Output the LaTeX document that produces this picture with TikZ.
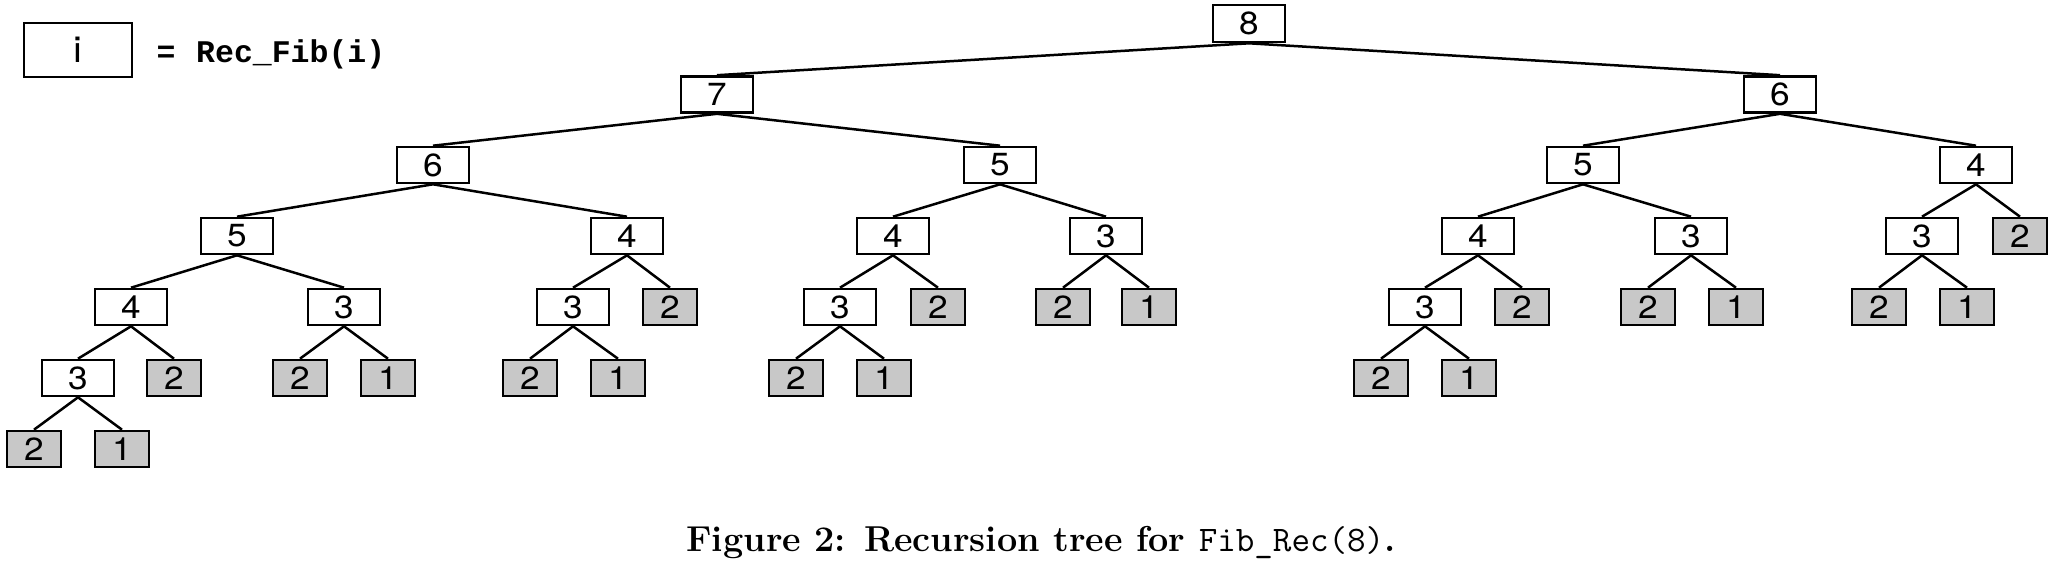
\documentclass[tikz,border=0pt]{standalone}
\usepackage{fontspec}
\usepackage{graphicx}
\newfontfamily\heros{TeX Gyre Heros}
\newfontfamily\courb{Liberation Mono}
\definecolor{leafgray}{RGB}{200,200,200}
\newcommand{\dg}[1]{\scalebox{1.1}[1]{#1}}
\tikzset{
  inner/.style={draw, line width=2.6pt, minimum width=72pt, minimum height=36pt, inner sep=0pt, fill=white,
    font=\heros\fontsize{32}{34}\selectfont},
  leaf/.style={inner, fill=leafgray, minimum width=54pt},
  edge/.style={line width=2.5pt}
}
\begin{document}
\begin{tikzpicture}[x=1pt,y=-1pt]
\useasboundingbox (0,0) rectangle (2057,568);
% legend
\node[inner, minimum width=108pt, minimum height=54pt, font=\heros\fontsize{36}{38}\selectfont] (leg) at (78,50) {\dg{i}};
\node[font=\courb\bfseries\fontsize{31.5}{33}\selectfont, anchor=base] (eq) at (166,62) {=};
\node[font=\courb\bfseries\fontsize{31.5}{33}\selectfont, anchor=base west, inner sep=0pt] (def) at (196,62) {Rec\_Fib(i)};
% levels
\def\La{23.5}\def\Lb{94.5}\def\Lc{165}\def\Ld{236}\def\Le{307}\def\Lf{378}\def\Lg{449}
\node[inner, minimum height=37pt] (r) at (1249,\La) {\dg{8}};
\node[inner] (A) at (717,\Lb) {\dg{7}};
\node[inner] (AA) at (433,\Lc) {\dg{6}};
\node[inner] (AAA) at (237,\Ld) {\dg{5}};
\node[inner] (AAAA) at (131,\Le) {\dg{4}};
\node[inner] (AAAAA) at (78,\Lf) {\dg{3}};
\node[leaf] (AAAAAA) at (34,\Lg) {\dg{2}};
\node[leaf] (AAAAAB) at (122,\Lg) {\dg{1}};
\node[leaf] (AAAAB) at (174,\Lf) {\dg{2}};
\node[inner] (AAAB) at (344,\Le) {\dg{3}};
\node[leaf] (AAABA) at (300,\Lf) {\dg{2}};
\node[leaf] (AAABB) at (388,\Lf) {\dg{1}};
\node[inner] (AAB) at (627,\Ld) {\dg{4}};
\node[inner] (AABA) at (573,\Le) {\dg{3}};
\node[leaf] (AABAA) at (530,\Lf) {\dg{2}};
\node[leaf] (AABAB) at (618,\Lf) {\dg{1}};
\node[leaf] (AABB) at (670,\Le) {\dg{2}};
\node[inner] (AB) at (1000,\Lc) {\dg{5}};
\node[inner] (ABA) at (893,\Ld) {\dg{4}};
\node[inner] (ABAA) at (840,\Le) {\dg{3}};
\node[leaf] (ABAAA) at (796,\Lf) {\dg{2}};
\node[leaf] (ABAAB) at (884,\Lf) {\dg{1}};
\node[leaf] (ABAB) at (938,\Le) {\dg{2}};
\node[inner] (ABB) at (1106,\Ld) {\dg{3}};
\node[leaf] (ABBA) at (1063,\Le) {\dg{2}};
\node[leaf] (ABBB) at (1149,\Le) {\dg{1}};
\node[inner] (B) at (1780,\Lb) {\dg{6}};
\node[inner] (BA) at (1583,\Lc) {\dg{5}};
\node[inner] (BAA) at (1478,\Ld) {\dg{4}};
\node[inner] (BAAA) at (1425,\Le) {\dg{3}};
\node[leaf] (BAAAA) at (1381,\Lf) {\dg{2}};
\node[leaf] (BAAAB) at (1469,\Lf) {\dg{1}};
\node[leaf] (BAAB) at (1522,\Le) {\dg{2}};
\node[inner] (BAB) at (1691,\Ld) {\dg{3}};
\node[leaf] (BABA) at (1648,\Le) {\dg{2}};
\node[leaf] (BABB) at (1736,\Le) {\dg{1}};
\node[inner] (BB) at (1976,\Lc) {\dg{4}};
\node[inner] (BBA) at (1922,\Ld) {\dg{3}};
\node[leaf] (BBAA) at (1879,\Le) {\dg{2}};
\node[leaf] (BBAB) at (1967,\Le) {\dg{1}};
\node[leaf] (BBB) at (2020,\Ld) {\dg{2}};
% edges
\foreach \p/\c in {r/A, r/B, A/AA, A/AB, AA/AAA, AA/AAB, AAA/AAAA, AAA/AAAB, AAAA/AAAAA, AAAA/AAAAB,
  AAAAA/AAAAAA, AAAAA/AAAAAB, AAAB/AAABA, AAAB/AAABB, AAB/AABA, AAB/AABB, AABA/AABAA, AABA/AABAB,
  AB/ABA, AB/ABB, ABA/ABAA, ABA/ABAB, ABAA/ABAAA, ABAA/ABAAB, ABB/ABBA, ABB/ABBB,
  B/BA, B/BB, BA/BAA, BA/BAB, BAA/BAAA, BAA/BAAB, BAAA/BAAAA, BAAA/BAAAB, BAB/BABA, BAB/BABB,
  BB/BBA, BB/BBB, BBA/BBAA, BBA/BBAB}
  \draw[edge] (\p.south) -- (\c.north);
% caption
\node[anchor=base, inner sep=0pt, font=\fontsize{36}{38}\selectfont] (cap) at (1041,551)
  {\bfseries Figure 2: Recursion tree for \texttt{\mdseries Fib\_Rec(8)}.};
\end{tikzpicture}
\end{document}
